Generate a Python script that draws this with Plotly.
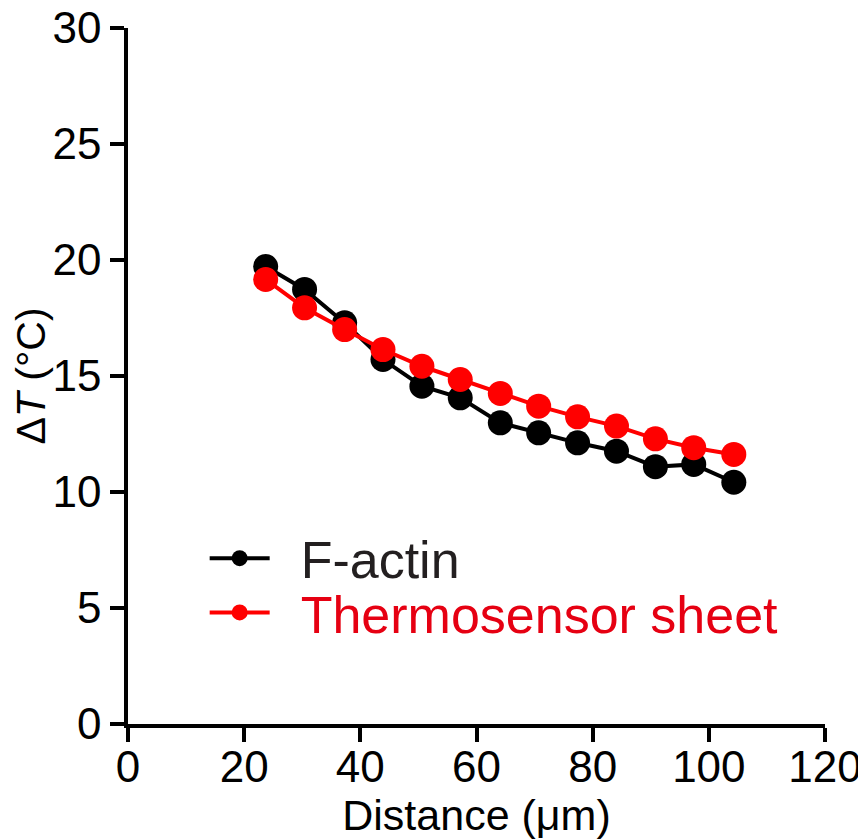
import plotly.graph_objects as go

distance = [23.7, 30.4, 37.3, 43.9, 50.6, 57.2, 64.1, 70.7, 77.4, 84.1, 90.8, 97.4, 104.3]
f_actin = [19.72, 18.73, 17.29, 15.71, 14.56, 14.06, 12.98, 12.55, 12.12, 11.76, 11.09, 11.19, 10.42]
thermosensor = [19.16, 17.94, 17.0, 16.14, 15.42, 14.85, 14.25, 13.70, 13.24, 12.84, 12.29, 11.91, 11.62]

series_names = ["F-actin", "Thermosensor sheet"]
line_colors = ["#000000", "#ff0000"]
text_colors = ["#231f20", "#e60012"]
x_ticks = [0, 20, 40, 60, 80, 100, 120]
y_ticks = [0, 5, 10, 15, 20, 25, 30]

font_family = "Liberation Sans, Arial, sans-serif"

fig = go.Figure()
legend_ids = ["legend", "legend2"]
legend_y = [0.238, 0.160]
for name, ys, lc, tc, lid in zip(series_names, [f_actin, thermosensor], line_colors, text_colors, legend_ids):
    fig.add_trace(go.Scatter(
        x=distance, y=ys, mode="lines+markers",
        name=f"<span style='color:{tc}'>\u2002{name}</span>",
        line=dict(color=lc, width=4),
        marker=dict(color=lc, size=25, line=dict(width=0)),
        legend=lid,
    ))

legend_common = dict(
    x=0.110, xanchor="left", yanchor="middle",
    font=dict(size=52, family=font_family),
    itemwidth=60, bgcolor="rgba(0,0,0,0)",
)

fig.update_layout(
    width=866, height=839,
    margin=dict(l=120, r=49, t=20, b=123),
    plot_bgcolor="white", paper_bgcolor="white",
    font=dict(family=font_family, color="black"),
    showlegend=True,
    legend=dict(y=legend_y[0], **legend_common),
    legend2=dict(y=legend_y[1], **legend_common),
    xaxis=dict(
        range=[0, 120], tickvals=x_ticks, ticktext=[str(v) for v in x_ticks],
        showgrid=False, zeroline=False, automargin=False,
        showline=True, linecolor="black", linewidth=3.5,
        ticks="outside", ticklen=14, tickwidth=3.5, tickcolor="black",
        tickfont=dict(size=44, color="black"), ticklabelstandoff=-13,
        ticklabeloverflow="allow",
        title=dict(text="Distance (μm)", font=dict(size=43), standoff=3),
    ),
    yaxis=dict(
        range=[0, 30], tickvals=y_ticks, ticktext=[str(v) for v in y_ticks],
        showgrid=False, zeroline=False, automargin=False,
        showline=True, linecolor="black", linewidth=3.5,
        ticks="outside", ticklen=14, tickwidth=3.5, tickcolor="black",
        tickfont=dict(size=44, color="black"), ticklabeloverflow="allow",
        title=dict(text="Δ<i>T</i> (°C)", font=dict(size=41), standoff=2),
    ),
)

fig.write_html("out.html")
